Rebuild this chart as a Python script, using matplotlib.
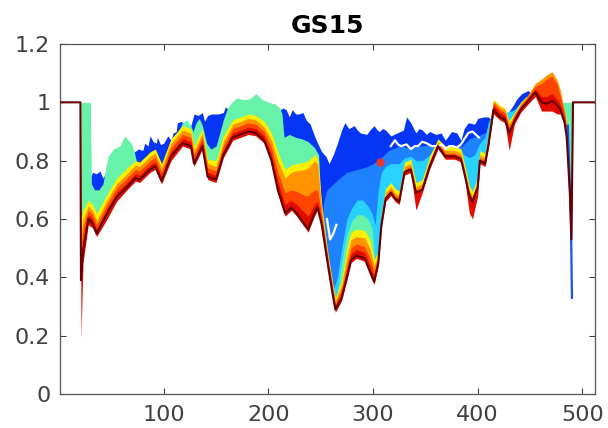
import numpy as np
import matplotlib
matplotlib.use('Agg')
import matplotlib.pyplot as plt

# shared grid for the final curve, its lower envelope and the warm bands
x_dark = [1, 20.5, 21, 23, 28, 32, 36, 46, 55, 65,
          73, 77, 87, 92, 98, 107, 118, 126, 129, 137,
          142, 150, 157, 166, 181, 188, 196, 203, 209, 216,
          222, 227, 235, 238, 244, 247, 251, 257, 262, 264,
          270, 275, 279, 284, 292, 297, 301, 305, 308, 312,
          317, 321, 325, 330, 336, 341, 347, 354, 362, 369,
          378, 384, 387, 392, 395, 400, 402, 407, 410, 415,
          421, 426, 430, 435, 441, 447, 455, 461, 466, 471,
          476, 479, 483, 485, 488, 489.5, 491, 512]

y_dark = [1.0, 1.0, 0.39, 0.49, 0.60, 0.585, 0.55, 0.62, 0.675, 0.71,
          0.74, 0.735, 0.77, 0.78, 0.73, 0.815, 0.86, 0.85, 0.79, 0.85,
          0.745, 0.735, 0.82, 0.88, 0.90, 0.895, 0.87, 0.80, 0.70, 0.62,
          0.64, 0.62, 0.58, 0.565, 0.62, 0.64, 0.58, 0.44, 0.33, 0.29,
          0.33, 0.40, 0.46, 0.475, 0.465, 0.42, 0.385, 0.45, 0.58, 0.67,
          0.69, 0.67, 0.66, 0.76, 0.77, 0.69, 0.70, 0.78, 0.85, 0.815,
          0.815, 0.805, 0.76, 0.68, 0.66, 0.71, 0.80, 0.79, 0.85, 0.975,
          0.95, 0.94, 0.895, 0.935, 0.975, 1.0, 1.035, 1.0, 0.995, 1.005,
          0.99, 0.975, 0.93, 0.88, 0.69, 0.53, 1.0, 1.0]

y_floor = [1.0, 1.0, 0.19, 0.45, 0.58, 0.57, 0.54, 0.60, 0.66, 0.70,
           0.73, 0.725, 0.76, 0.77, 0.72, 0.80, 0.85, 0.84, 0.78, 0.84,
           0.735, 0.725, 0.81, 0.87, 0.89, 0.885, 0.86, 0.79, 0.69, 0.61,
           0.63, 0.61, 0.57, 0.555, 0.61, 0.63, 0.57, 0.43, 0.32, 0.28,
           0.32, 0.39, 0.45, 0.465, 0.455, 0.41, 0.375, 0.44, 0.57, 0.66,
           0.68, 0.66, 0.65, 0.75, 0.76, 0.63, 0.69, 0.77, 0.84, 0.805,
           0.805, 0.795, 0.75, 0.62, 0.60, 0.68, 0.79, 0.78, 0.84, 0.96,
           0.94, 0.93, 0.835, 0.925, 0.965, 0.99, 1.02, 0.97, 0.97, 0.97,
           0.96, 0.96, 0.92, 0.87, 0.68, 0.52, 1.0, 1.0]

y_red = [1.0, 1.0, 0.45, 0.53, 0.615, 0.60, 0.565, 0.635, 0.69, 0.725,
         0.755, 0.75, 0.785, 0.795, 0.745, 0.83, 0.875, 0.865, 0.805, 0.865,
         0.76, 0.75, 0.835, 0.895, 0.915, 0.91, 0.885, 0.82, 0.73, 0.65,
         0.665, 0.65, 0.62, 0.61, 0.65, 0.66, 0.595, 0.45, 0.34, 0.30,
         0.345, 0.42, 0.48, 0.495, 0.485, 0.44, 0.40, 0.455, 0.585, 0.675,
         0.695, 0.675, 0.665, 0.765, 0.775, 0.695, 0.705, 0.785, 0.855, 0.82,
         0.82, 0.81, 0.765, 0.685, 0.665, 0.715, 0.805, 0.795, 0.855, 0.99,
         0.965, 0.955, 0.905, 0.945, 0.985, 1.01, 1.045, 1.02, 1.02, 1.03,
         1.01, 0.99, 0.945, 0.895, 0.70, 0.54, 1.0, 1.0]

y_redorange = [1.0, 1.0, 0.50, 0.57, 0.63, 0.615, 0.58, 0.65, 0.705, 0.74,
               0.77, 0.765, 0.80, 0.81, 0.76, 0.845, 0.89, 0.88, 0.82, 0.88,
               0.775, 0.765, 0.85, 0.91, 0.93, 0.925, 0.90, 0.845, 0.76, 0.69,
               0.70, 0.695, 0.68, 0.68, 0.70, 0.70, 0.61, 0.46, 0.35, 0.31,
               0.36, 0.44, 0.50, 0.515, 0.505, 0.465, 0.42, 0.465, 0.595, 0.68,
               0.70, 0.68, 0.67, 0.77, 0.78, 0.70, 0.71, 0.79, 0.86, 0.825,
               0.825, 0.815, 0.77, 0.69, 0.67, 0.72, 0.81, 0.80, 0.865, 1.0,
               0.975, 0.965, 0.915, 0.955, 0.99, 1.015, 1.055, 1.065, 1.08, 1.09,
               1.06, 1.02, 0.96, 0.91, 0.71, 0.55, 1.0, 1.0]

y_orange = [1.0, 1.0, 0.55, 0.60, 0.645, 0.63, 0.595, 0.665, 0.72, 0.755,
            0.785, 0.78, 0.815, 0.825, 0.775, 0.86, 0.905, 0.895, 0.835, 0.895,
            0.79, 0.78, 0.865, 0.925, 0.945, 0.94, 0.915, 0.87, 0.80, 0.74,
            0.76, 0.765, 0.77, 0.775, 0.80, 0.79, 0.63, 0.47, 0.36, 0.32,
            0.375, 0.47, 0.53, 0.54, 0.535, 0.50, 0.44, 0.475, 0.605, 0.69,
            0.71, 0.69, 0.68, 0.78, 0.79, 0.71, 0.72, 0.80, 0.865, 0.835,
            0.835, 0.825, 0.78, 0.70, 0.68, 0.73, 0.82, 0.81, 0.875, 1.005,
            0.985, 0.975, 0.925, 0.96, 0.995, 1.02, 1.065, 1.08, 1.095, 1.105,
            1.075, 1.04, 0.965, 0.92, 0.72, 0.56, 1.0, 1.0]

y_yellow = [1.0, 1.0, 0.60, 0.63, 0.665, 0.65, 0.62, 0.685, 0.74, 0.775,
            0.80, 0.795, 0.83, 0.84, 0.79, 0.875, 0.92, 0.91, 0.85, 0.91,
            0.805, 0.80, 0.885, 0.94, 0.96, 0.955, 0.935, 0.895, 0.83, 0.77,
            0.785, 0.79, 0.795, 0.80, 0.82, 0.81, 0.65, 0.48, 0.37, 0.33,
            0.39, 0.50, 0.555, 0.565, 0.56, 0.53, 0.46, 0.49, 0.62, 0.705,
            0.725, 0.705, 0.695, 0.795, 0.805, 0.725, 0.735, 0.815, 0.875, 0.85,
            0.85, 0.84, 0.795, 0.715, 0.695, 0.745, 0.835, 0.825, 0.89, 1.01,
            0.99, 0.98, 0.935, 0.965, 1.0, 1.02, 1.045, 1.01, 1.0, 1.01,
            0.995, 0.985, 0.97, 0.93, 0.73, 0.57, 1.0, 1.0]

# cool bands, each on its own breakpoints
x_green = [21, 30, 31, 34, 38, 42, 45, 47, 52, 58, 61, 63, 66, 69, 72, 75, 100,
           105, 110, 114, 118, 122, 126, 128, 131, 134, 137, 141, 145, 150, 154,
           157, 161, 165, 170, 175, 181, 185, 188, 191, 194, 200, 206, 211, 213,
           215, 220, 226, 232, 238, 244, 248, 251, 260, 264, 270, 275, 280, 285,
           290, 295, 299, 302, 410, 413, 421, 426, 430, 435, 441, 446, 452, 478,
           480, 490.5, 491, 512]
y_green = [1.0, 1.0, 0.72, 0.70, 0.70, 0.72, 0.78, 0.815, 0.84, 0.85, 0.87, 0.885,
           0.87, 0.86, 0.83, 0.78, 0.78, 0.84, 0.87, 0.90, 0.93, 0.94, 0.92, 0.90,
           0.93, 0.945, 0.92, 0.86, 0.84, 0.85, 0.90, 0.94, 0.98, 1.0, 1.015, 1.01,
           1.01, 1.02, 1.03, 1.02, 1.01, 1.0, 0.995, 0.98, 0.96, 0.88, 0.89, 0.88,
           0.875, 0.865, 0.845, 0.82, 0.60, 0.35, 0.30, 0.45, 0.55, 0.595, 0.615,
           0.615, 0.60, 0.57, 0.45, 0.45, 0.95, 0.965, 0.955, 0.94, 0.965, 1.0,
           1.02, 1.0, 0.98, 1.0, 1.0, 0.4, 0.4]

x_cyan = [21, 258, 262, 266, 270, 275, 280, 285, 290, 295, 299, 302, 305, 308,
          312, 317, 325, 330, 336, 341, 347, 354, 362, 369, 378, 384, 387, 392,
          397, 402, 407, 410, 415, 421, 426, 431, 435, 441, 446, 452, 457, 465,
          470, 476, 480, 485, 489, 512]
y_cyan = [0.2, 0.2, 0.36, 0.40, 0.50, 0.60, 0.64, 0.665, 0.665, 0.645, 0.62, 0.58,
          0.70, 0.76, 0.78, 0.79, 0.79, 0.81, 0.815, 0.80, 0.80, 0.82, 0.86, 0.84,
          0.835, 0.83, 0.82, 0.81, 0.82, 0.86, 0.88, 0.93, 0.975, 0.97, 0.965,
          0.97, 0.975, 1.0, 1.01, 1.0, 0.99, 0.985, 0.99, 0.975, 0.97, 0.5, 0.2, 0.2]

x_azure = [21, 248, 250, 253, 256, 262, 268, 275, 285, 295, 305, 315, 325, 335,
           345, 355, 365, 375, 385, 392, 400, 410, 420, 428, 432, 512]
y_azure = [0.2, 0.2, 0.55, 0.66, 0.70, 0.72, 0.74, 0.76, 0.77, 0.78, 0.80, 0.835,
           0.85, 0.845, 0.85, 0.855, 0.85, 0.85, 0.85, 0.875, 0.885, 0.90, 0.90,
           0.93, 0.5, 0.2]

x_blue = [21, 31, 32, 36, 39, 42, 45, 50, 55, 60, 66, 72, 76, 80, 82, 85, 87, 90,
          93, 94, 97, 100, 104, 107, 109, 112, 113, 117, 120, 126, 129, 133, 137,
          139, 142, 146, 152, 157, 159, 163, 170, 200, 211, 214, 217, 220, 223,
          226, 229, 233, 236, 240, 244, 247, 251, 255, 258, 262, 266, 270, 273,
          277, 282, 285, 288, 294, 297, 301, 304, 306, 309, 312, 317, 323, 329,
          332, 336, 341, 344, 347, 351, 354, 360, 365, 369, 372, 375, 380, 384,
          387, 391, 397, 400, 406, 410, 413, 417, 421, 424, 428, 431, 434, 437,
          442, 445, 448, 452, 456, 470, 487, 489, 512]
y_blue = [0.75, 0.75, 0.76, 0.755, 0.765, 0.74, 0.76, 0.78, 0.80, 0.81, 0.82, 0.83,
          0.84, 0.835, 0.86, 0.85, 0.885, 0.865, 0.86, 0.88, 0.855, 0.86, 0.885,
          0.87, 0.895, 0.90, 0.93, 0.935, 0.92, 0.92, 0.96, 0.955, 0.965, 0.935,
          0.955, 0.96, 0.96, 0.965, 0.985, 0.97, 0.96, 0.96, 0.975, 0.98, 0.975,
          0.95, 0.975, 0.96, 0.96, 0.965, 0.94, 0.925, 0.885, 0.86, 0.83, 0.815,
          0.79, 0.82, 0.86, 0.905, 0.93, 0.91, 0.92, 0.905, 0.895, 0.89, 0.905,
          0.92, 0.905, 0.90, 0.91, 0.905, 0.885, 0.895, 0.905, 0.95, 0.93, 0.895,
          0.91, 0.905, 0.89, 0.90, 0.89, 0.895, 0.87, 0.885, 0.90, 0.895, 0.87,
          0.91, 0.93, 0.925, 0.945, 0.95, 0.95, 0.94, 0.95, 0.94, 0.945, 0.96,
          0.975, 0.99, 1.01, 1.03, 1.035, 1.04, 1.03, 1.0, 0.98, 0.92, 0.5, 0.5]

# blue curve dropping at the right edge
x_tail = [486, 489, 490]
y_tail = [0.92, 0.6, 0.33]

# white traces
x_white = [317, 321, 324, 327, 332, 336, 340, 343, 347, 351, 356, 362, 366, 369,
           373, 376, 380, 384, 387, 391, 395, 398, 401]
y_white = [0.85, 0.87, 0.855, 0.85, 0.856, 0.84, 0.85, 0.85, 0.865, 0.86, 0.85,
           0.85, 0.855, 0.84, 0.85, 0.85, 0.845, 0.856, 0.873, 0.895, 0.90, 0.89, 0.88]
x_white2 = [256, 259, 262, 265]
y_white2 = [0.60, 0.53, 0.55, 0.58]

dot_x = [307]
dot_y = [0.795]

xticks = [100, 200, 300, 400, 500]
yticks = [0, 0.2, 0.4, 0.6, 0.8, 1.0, 1.2]
ytick_labels = ['0', '0.2', '0.4', '0.6', '0.8', '1', '1.2']

fig = plt.figure(figsize=(6.08, 4.28), dpi=100)
ax = fig.add_axes([0.0987, 0.0794, 0.8799, 0.8178])

bands = [(x_blue, y_blue, '#0535f5'),
         (x_azure, y_azure, '#1e82ff'),
         (x_cyan, y_cyan, '#28d2ff'),
         (x_green, y_green, '#66f2a8'),
         (x_dark, y_yellow, '#f8f000'),
         (x_dark, y_orange, '#ff9400'),
         (x_dark, y_redorange, '#ff4400'),
         (x_dark, y_red, '#e00c00')]
for xs, ys, c in bands:
    ax.fill_between(xs, ys, 0, color=c, lw=0, zorder=1)
# blank out everything under the lowest curve
ax.fill_between(x_dark, y_floor, 0, color='white', lw=0, zorder=1.5)

ax.plot(x_tail, y_tail, color='#1450ff', lw=1.6, zorder=2)
ax.plot(x_white, y_white, color='white', lw=1.6, zorder=2)
ax.plot(x_white2, y_white2, color='white', lw=1.6, zorder=2)
ax.plot(x_dark, y_dark, color='#660000', lw=1.5, zorder=3)
ax.plot(dot_x, dot_y, 'o', color='#e8342c', ms=5, zorder=4)

ax.set_xlim(1, 512)
ax.set_ylim(0, 1.2)
ax.set_xticks(xticks)
ax.set_yticks(yticks)
ax.set_yticklabels(ytick_labels)
ax.tick_params(direction='in', length=4, width=0.8, colors='#404040',
               labelsize=16, top=True, right=True)
ax.tick_params(axis='x', pad=8)
ax.tick_params(axis='y', pad=7)
for s in ax.spines.values():
    s.set_color('#555555')
    s.set_linewidth(0.9)
ax.set_title('GS15', fontsize=18, fontweight='bold', pad=8)

plt.savefig('out.png', dpi=100)
